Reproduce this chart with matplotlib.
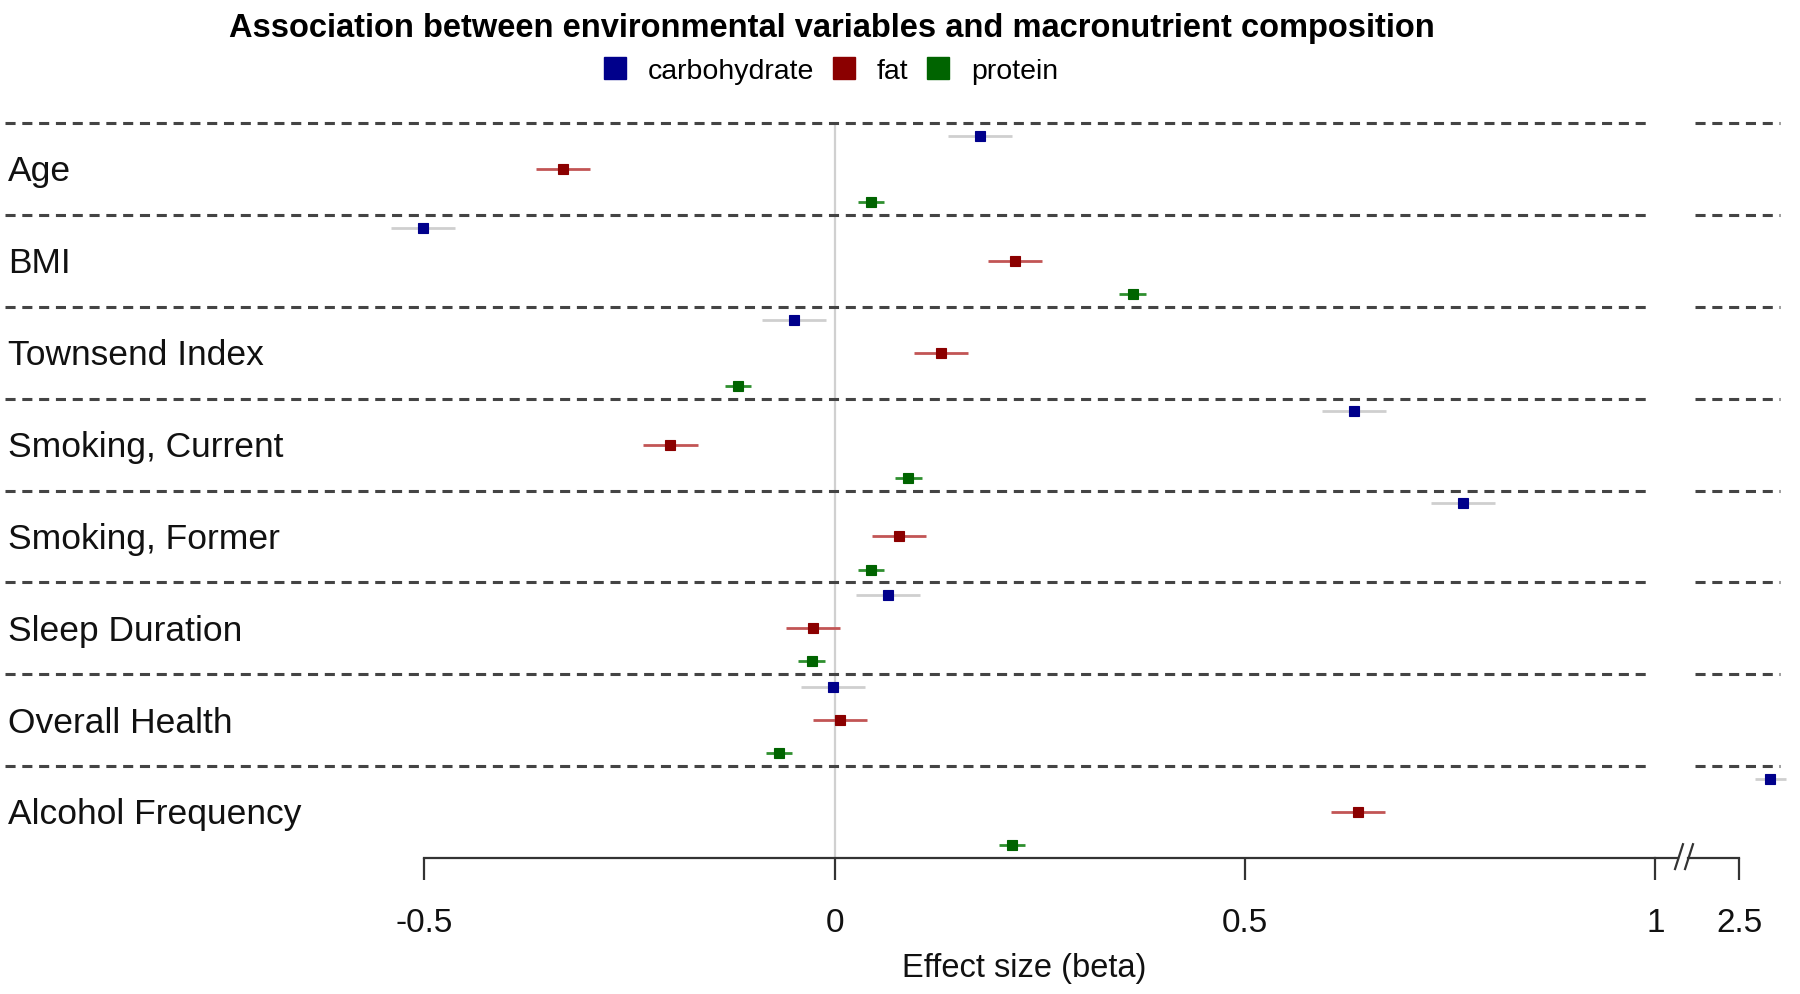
import matplotlib
matplotlib.use("Agg")
import matplotlib.pyplot as plt
from matplotlib.lines import Line2D
import numpy as np

plt.rcParams['font.family'] = ['Liberation Sans', 'DejaVu Sans']

# ---------------- data ----------------
categories = ["Age", "BMI", "Townsend Index", "Smoking, Current",
              "Smoking, Former", "Sleep Duration", "Overall Health",
              "Alcohol Frequency"]
series_names = ["carbohydrate", "fat", "protein"]

carb_beta = [0.177, -0.501, -0.049, 0.633, 0.766, 0.065, -0.002, 2.538]
carb_ci = [0.039, 0.039, 0.039, 0.039, 0.039, 0.039, 0.039, 0.019]
fat_beta = [-0.331, 0.220, 0.130, -0.200, 0.078, -0.026, 0.007, 0.638]
fat_ci = [0.033, 0.033, 0.033, 0.033, 0.033, 0.033, 0.033, 0.033]
prot_beta = [0.044, 0.363, -0.118, 0.090, 0.044, -0.028, -0.068, 0.216]
prot_ci = [0.016, 0.016, 0.016, 0.016, 0.016, 0.016, 0.016, 0.016]

xticks_main = [-0.5, 0, 0.5, 1]
xticklabels_main = ["-0.5", "0", "0.5", "1"]
xticks_break = [2.5]
xticklabels_break = ["2.5"]

title = "Association between environmental variables and macronutrient composition"
xlabel = "Effect size (beta)"

# ---------------- styles ----------------
marker_colors = ["#00008B", "#8B0000", "#006400"]
ci_colors = ["#cfcfcf", "#c25555", "#2f8f2f"]
offsets = [-0.36, 0.0, 0.36]
W, H = 1800, 995
fig = plt.figure(figsize=(W / 100, H / 100), dpi=100)

px_per_unit = 820.8
zero_px = 834.6
top_px, bot_px = 124, 859


def fx(px):
    return px / W


def fy(px):
    return 1 - px / H


# main axes
left1, right1 = 5, 1655.4
ax1 = fig.add_axes([fx(left1), fy(bot_px), (right1 - left1) / W, (bot_px - top_px) / H])
ax1.set_xlim((left1 - zero_px) / px_per_unit, (right1 - zero_px) / px_per_unit)
# break axes
left2, right2 = 1688, 1800
ax2 = fig.add_axes([fx(left2), fy(bot_px), (right2 - left2) / W, (bot_px - top_px) / H])
x25_px = 1739.2
ax2.set_xlim(2.5 - (x25_px - left2) / px_per_unit, 2.5 + (right2 - x25_px) / px_per_unit)

n = len(categories)
y = np.arange(n)
dash = (0, (3.3, 2.2))
for ax, xfrac in ((ax1, (0.0, 0.9967)), (ax2, (0.065, 0.82))):
    ax.set_ylim(n - 0.5, -0.5)
    ax.set_facecolor("none")
    for s in ("top", "right", "left"):
        ax.spines[s].set_visible(False)
    ax.spines["bottom"].set_linewidth(1.6)
    ax.spines["bottom"].set_color("#333333")
    ax.set_yticks([])
    ax.tick_params(axis="x", direction="out", length=16, width=1.6,
                   color="#333333", pad=19, labelsize=24, labelcolor="#111111")
    for i in range(n):
        ax.axhline(i - 0.5, xmin=xfrac[0], xmax=xfrac[1], color="#444444",
                   lw=2.2, linestyle=dash, clip_on=False, zorder=1)
    series = [(carb_beta, carb_ci), (fat_beta, fat_ci), (prot_beta, prot_ci)]
    for k, (b, c) in enumerate(series):
        yy = y + offsets[k]
        ax.errorbar(b, yy, xerr=c, fmt="none", ecolor=ci_colors[k],
                    elinewidth=2.0, capsize=0, zorder=3)
        ax.plot(b, yy, "s", color=marker_colors[k], markersize=7.5,
                markeredgewidth=0.8, linestyle="none", zorder=4)

ax1.axvline(0, color="#d0d0d0", lw=1.6, zorder=0)
ax1.spines["bottom"].set_bounds(-0.5, 1.0)
ax1.set_xticks(xticks_main)
ax1.set_xticklabels(xticklabels_main)
ax2.spines["bottom"].set_bounds(ax2.get_xlim()[0], 2.5)
ax2.set_xticks(xticks_break)
ax2.set_xticklabels(xticklabels_break)

# axis continuation and break marks
ax1.plot([1.0, 1.027], [n - 0.5, n - 0.5], color="#333333", lw=1.6, clip_on=False)
for dx in (0.0, 0.0122):
    ax1.plot([1.0239 + dx, 1.0336 + dx], [n - 0.5 + 0.12, n - 0.5 - 0.15],
             color="#333333", lw=1.6, clip_on=False)

# category labels
for i, cat in enumerate(categories):
    ax1.text(0.0018, i + 0.02, cat, transform=ax1.get_yaxis_transform(),
             ha="left", va="center", fontsize=25.5, color="#111111")

fig.text(fx(832), fy(29), title, ha="center", va="center",
         fontsize=23.5, fontweight="bold")
fig.text(fx(1024), fy(969), xlabel, ha="center", va="center", fontsize=23.5,
         color="#111111")

handles = [Line2D([], [], marker="s", color=c, linestyle="none", markersize=16)
           for c in marker_colors]
fig.legend(handles, series_names, loc="center", bbox_to_anchor=(fx(831), fy(72)),
           ncol=3, frameon=False, fontsize=20.5, handlelength=0.8,
           handletextpad=0.75, columnspacing=0.65, borderpad=0.0)

fig.savefig("out.png", dpi=100)
